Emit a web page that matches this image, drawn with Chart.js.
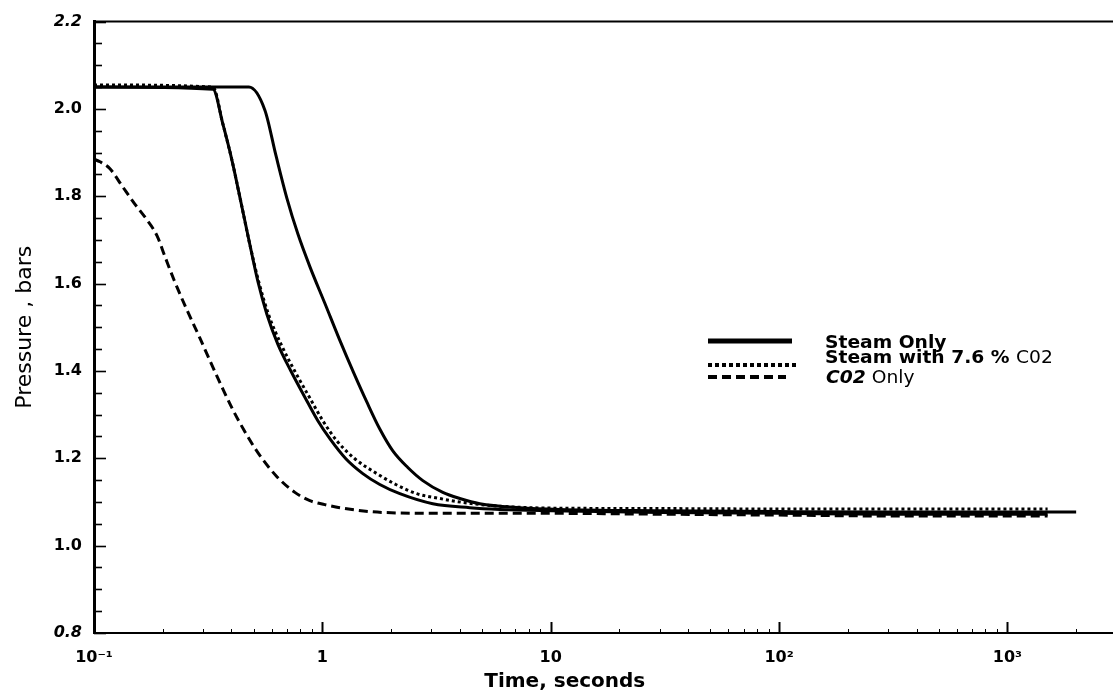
<!DOCTYPE html>
<html><head><meta charset="utf-8">
<script src="https://cdn.jsdelivr.net/npm/chart.js@4.4.0/dist/chart.umd.min.js"></script>
<style>html,body{margin:0;padding:0;background:#fff;}canvas{display:block;}</style>
</head><body>
<canvas id="c" width="1113" height="693"></canvas>
<script>
// ---- data ----
const steamOnlyT = [0.1, 0.4768, 0.5603, 0.6259, 0.6991, 0.781, 0.8816, 1.0254, 1.193, 1.3736, 1.5654, 1.7847, 2.035, 2.367, 2.754, 3.369, 3.998, 4.89, 7.32, 10.95, 30, 100, 300, 1000, 2000];
const steamOnlyP = [2.05, 2.05, 1.997, 1.894, 1.796, 1.714, 1.639, 1.555, 1.470, 1.395, 1.329, 1.267, 1.217, 1.179, 1.149, 1.122, 1.108, 1.096, 1.087, 1.083, 1.080, 1.078, 1.077, 1.077, 1.077];

const steamEarlyT = [0.1, 0.3318, 0.3669, 0.4017, 0.4398, 0.4816, 0.522, 0.5716, 0.6388, 0.7281, 0.8384, 0.9556, 1.0784, 1.2673, 1.504, 1.7847, 2.184, 3.045, 4.42, 5.98, 10, 30, 100, 300, 1000, 1500];
const steamEarlyP = [2.05, 2.045, 1.965, 1.883, 1.787, 1.689, 1.605, 1.530, 1.461, 1.400, 1.340, 1.286, 1.245, 1.199, 1.165, 1.140, 1.119, 1.096, 1.087, 1.083, 1.080, 1.076, 1.074, 1.072, 1.072, 1.072];

const steamCO2T = [0.1, 0.3318, 0.3669, 0.4017, 0.4398, 0.4816, 0.5273, 0.5833, 0.6649, 0.7656, 0.8816, 1.005, 1.1574, 1.3875, 1.7321, 2.0973, 2.5922, 3.268, 3.878, 5.41, 8.09, 10, 30, 100, 300, 1000, 1500];
const steamCO2P = [2.055, 2.05, 1.965, 1.883, 1.787, 1.689, 1.603, 1.527, 1.457, 1.395, 1.338, 1.286, 1.240, 1.199, 1.165, 1.140, 1.119, 1.108, 1.101, 1.092, 1.087, 1.086, 1.085, 1.084, 1.084, 1.084, 1.084];

const co2OnlyT = [0.1, 0.1062, 0.1175, 0.1326, 0.1496, 0.1689, 0.1887, 0.2045, 0.2239, 0.2501, 0.291, 0.342, 0.4058, 0.4579, 0.522, 0.6324, 0.7579, 0.8816, 1.0254, 1.193, 1.84, 3.614, 10, 30, 100, 300, 1000, 1500];
const co2OnlyP = [1.885, 1.879, 1.863, 1.824, 1.785, 1.749, 1.710, 1.662, 1.609, 1.550, 1.475, 1.393, 1.311, 1.261, 1.213, 1.158, 1.122, 1.103, 1.094, 1.087, 1.076, 1.074, 1.074, 1.072, 1.070, 1.068, 1.068, 1.068];

const xTickValues = [0.1, 1, 10, 100, 1000];
const xTickLabels = ['10\u207B\u00B9', '1', '10', '10\u00B2', '10\u00B3'];
const yTickLabels = ['0.8', '1.0', '1.2', '1.4', '1.6', '1.8', '2.0', '2.2'];
const legendLabels = ['Steam Only', 'Steam with 7.6 % C02', 'C02 Only'];
const xTitle = 'Time, seconds';
const yTitle = 'Pressure , bars';

const toPts = (T, P) => T.map((t, i) => ({x: t, y: P[i]}));

const FAM = "'DejaVu Sans', sans-serif";

const axisTicks = {
  id: 'axisTicks',
  afterDraw(chart) {
    const {ctx, chartArea: a, scales: {x, y}} = chart;
    ctx.save();
    ctx.strokeStyle = '#000';
    ctx.lineWidth = 2;
    ctx.beginPath(); ctx.moveTo(a.left, a.top); ctx.lineTo(a.right, a.top); ctx.stroke();
    ctx.lineWidth = 1.6;
    for (let i = 0; i <= 28; i++) {
      const v = y.min + i * 0.05;
      const py = Math.round(y.getPixelForValue(v)) + 0.5;
      const len = (i % 4 === 0) ? 12 : 8;
      ctx.beginPath(); ctx.moveTo(a.left, py); ctx.lineTo(a.left + len, py); ctx.stroke();
    }
    for (let d = -1; d <= 3; d++) {
      for (let m = 1; m <= 9; m++) {
        const v = m * Math.pow(10, d);
        if (v > x.max) break;
        const px = Math.round(x.getPixelForValue(v)) + 0.5;
        const len = m === 1 ? 11 : 4;
        ctx.lineWidth = m === 1 ? 2 : 1;
        ctx.beginPath(); ctx.moveTo(px, a.bottom); ctx.lineTo(px, a.bottom - len); ctx.stroke();
      }
    }
    // x axis title (placed slightly left of axis centre, as in the reference)
    ctx.fillStyle = '#000';
    ctx.font = 'bold 20px ' + FAM;
    ctx.textAlign = 'center';
    ctx.textBaseline = 'alphabetic';
    ctx.fillText(xTitle, a.left + (a.right - a.left) * 0.462, chart.height - 6);
    ctx.restore();
  }
};

const legendBox = {
  id: 'legendBox',
  afterDraw(chart) {
    const ctx = chart.ctx;
    ctx.save();
    ctx.strokeStyle = '#000';
    ctx.lineCap = 'butt';
    ctx.lineWidth = 5; ctx.setLineDash([]);
    ctx.beginPath(); ctx.moveTo(708, 341); ctx.lineTo(792, 341); ctx.stroke();
    ctx.lineWidth = 4; ctx.setLineDash([4, 3]);
    ctx.beginPath(); ctx.moveTo(708, 365); ctx.lineTo(798, 365); ctx.stroke();
    ctx.lineWidth = 4; ctx.setLineDash([9, 5]);
    ctx.beginPath(); ctx.moveTo(708, 377); ctx.lineTo(786, 377); ctx.stroke();
    ctx.setLineDash([]);
    ctx.fillStyle = '#000';
    ctx.textBaseline = 'alphabetic';
    const drawSegs = (segs, x0, yb) => {
      let x = x0;
      segs.forEach(s => {
        ctx.save();
        ctx.font = s.font;
        ctx.translate(x, yb);
        ctx.scale(1.1, 1);
        ctx.fillText(s.text, 0, 0);
        const w = ctx.measureText(s.text).width * 1.1;
        ctx.restore();
        x += w;
      });
    };
    const bold = "bold 17px " + FAM, reg = "17px " + FAM, bi = "italic bold 17px " + FAM;
    const l2 = legendLabels[1].split('C02');
    const l3 = legendLabels[2].split('C02');
    drawSegs([{text: legendLabels[0], font: bold}], 825, 348);
    drawSegs([{text: l2[0], font: bold}, {text: 'C02', font: reg}], 825, 363);
    drawSegs([{text: 'C02', font: bi}, {text: l3[1], font: reg}], 826, 383);
    ctx.restore();
  }
};

const lineStyle = {borderColor: '#000', borderWidth: 3, pointRadius: 0, cubicInterpolationMode: 'monotone', fill: false};

new Chart(document.getElementById('c'), {
  type: 'line',
  data: {
    datasets: [
      Object.assign({label: legendLabels[0], data: toPts(steamOnlyT, steamOnlyP)}, lineStyle),
      Object.assign({label: legendLabels[0] + ' (early)', data: toPts(steamEarlyT, steamEarlyP)}, lineStyle),
      Object.assign({label: legendLabels[1], data: toPts(steamCO2T, steamCO2P), borderDash: [3, 3]}, lineStyle),
      Object.assign({label: legendLabels[2], data: toPts(co2OnlyT, co2OnlyP), borderDash: [9, 5]}, lineStyle)
    ]
  },
  options: {
    responsive: false,
    animation: false,
    devicePixelRatio: 1,
    layout: {padding: {top: 19, right: 0, left: 0, bottom: 0}},
    plugins: {legend: {display: false}, tooltip: {enabled: false}},
    scales: {
      x: {
        type: 'logarithmic',
        min: 0.1, max: 2900,
        afterFit(s) { s.height = 60; },
        afterBuildTicks(s) { s.ticks = xTickValues.map(v => ({value: v, major: true})); },
        grid: {display: true, drawOnChartArea: false, drawTicks: false},
        border: {display: true, color: '#000', width: 2},
        ticks: {
          autoSkip: false, maxRotation: 0, padding: 15, color: '#000',
          font: {family: FAM, size: 16, weight: 'bold'},
          callback: (v) => { const i = xTickValues.indexOf(v); return i >= 0 ? xTickLabels[i] : ''; }
        },
        title: {display: false}
      },
      y: {
        type: 'linear',
        min: 0.8, max: 2.2,
        afterFit(s) { s.width = 94; },
        grid: {display: true, drawOnChartArea: false, drawTicks: false},
        border: {display: true, color: '#000', width: 3},
        ticks: {
          stepSize: 0.2, padding: 12, color: '#000',
          font: (c) => {
            const v = c.tick ? c.tick.value : 1;
            const edge = Math.abs(v - 0.8) < 1e-6 || Math.abs(v - 2.2) < 1e-6;
            return {family: FAM, size: 16, weight: 'bold', style: edge ? 'italic' : 'normal'};
          },
          callback: (v, i) => yTickLabels[i] !== undefined ? yTickLabels[i] : v.toFixed(1)
        },
        title: {display: true, text: yTitle, color: '#000', font: {family: FAM, size: 22, weight: 'normal'}, padding: {top: 12, bottom: 0}}
      }
    }
  },
  plugins: [axisTicks, legendBox]
});
</script>
</body></html>
